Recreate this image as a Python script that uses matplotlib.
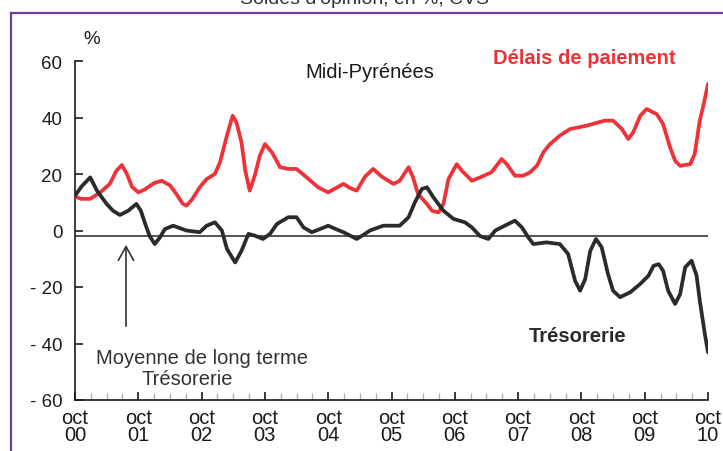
import matplotlib
matplotlib.use("Agg")
import numpy as np
import matplotlib.pyplot as plt
from matplotlib.lines import Line2D
from matplotlib.ticker import FixedLocator, MultipleLocator

plt.rcParams['font.family'] = ['Liberation Sans', 'DejaVu Sans']

# ========================
# Data (years since oct 2000, solde in %)
# ========================
t_delais = [0.0, 0.1, 0.24, 0.4, 0.55, 0.65, 0.74, 0.82, 0.9, 1.0, 1.1, 1.25,
            1.37, 1.5, 1.6, 1.7, 1.76, 1.85, 1.97, 2.08, 2.21, 2.29, 2.4, 2.49,
            2.55, 2.63, 2.69, 2.76, 2.84, 2.92, 3.0, 3.11, 3.24, 3.37, 3.5, 3.66,
            3.84, 4.0, 4.12, 4.24, 4.35, 4.45, 4.58, 4.71, 4.85, 5.03, 5.13, 5.27,
            5.34, 5.42, 5.56, 5.64, 5.74, 5.82, 5.9, 6.03, 6.11, 6.27, 6.4, 6.58,
            6.74, 6.82, 6.95, 7.08, 7.19, 7.3, 7.4, 7.5, 7.66, 7.82, 8.08, 8.37,
            8.5, 8.64, 8.74, 8.82, 8.93, 9.03, 9.19, 9.29, 9.4, 9.48, 9.56, 9.72,
            9.79, 9.87, 9.94, 10.0]
delais = [12.0, 11.2, 11.2, 13.5, 16.5, 21.0, 23.2, 20.0, 15.5, 13.5, 14.5, 16.8,
          17.6, 16.0, 13.0, 9.5, 8.8, 11.0, 15.3, 18.2, 20.0, 24.1, 33.6, 40.6,
          38.3, 31.2, 21.2, 14.1, 19.4, 26.5, 30.6, 27.7, 22.4, 21.8, 21.8, 18.8,
          15.3, 13.5, 15.0, 16.5, 15.0, 14.1, 19.0, 21.8, 19.0, 16.5, 17.6, 22.4,
          18.8, 12.9, 9.4, 7.0, 6.4, 9.4, 18.2, 23.5, 21.2, 17.6, 18.8, 20.6,
          25.3, 23.5, 19.4, 19.4, 20.6, 23.0, 27.7, 30.5, 33.6, 35.9, 37.1, 38.9,
          38.9, 35.9, 32.4, 34.8, 40.6, 43.0, 41.2, 37.7, 29.5, 24.7, 22.9, 23.5,
          27.1, 38.9, 45.5, 51.9]

t_treso = [0.0, 0.1, 0.24, 0.35, 0.5, 0.6, 0.71, 0.84, 0.97, 1.04, 1.11, 1.18,
           1.26, 1.34, 1.42, 1.55, 1.76, 1.97, 2.08, 2.21, 2.32, 2.4, 2.53, 2.63,
           2.74, 2.84, 2.97, 3.08, 3.19, 3.37, 3.5, 3.61, 3.74, 3.87, 4.0, 4.12,
           4.24, 4.45, 4.56, 4.66, 4.87, 5.13, 5.27, 5.37, 5.48, 5.56, 5.66, 5.82,
           5.98, 6.16, 6.27, 6.4, 6.53, 6.64, 6.79, 6.95, 7.06, 7.16, 7.24, 7.45,
           7.55, 7.66, 7.79, 7.9, 7.98, 8.06, 8.14, 8.23, 8.32, 8.42, 8.5, 8.61,
           8.77, 8.93, 9.06, 9.14, 9.22, 9.29, 9.37, 9.48, 9.56, 9.64, 9.74, 9.82,
           9.87, 9.95, 10.0]
treso = [12.3, 15.5, 18.8, 14.0, 9.4, 7.0, 5.5, 7.0, 9.4, 7.0, 2.3, -2.0,
         -4.8, -2.5, 0.5, 1.7, 0.0, -0.6, 1.7, 2.9, 0.0, -6.5, -11.3, -7.2,
         -1.2, -1.8, -3.0, -1.2, 2.3, 4.7, 4.7, 1.1, -0.6, 0.5, 1.7, 0.5,
         -0.6, -3.0, -1.5, 0.0, 1.7, 1.7, 4.7, 10.0, 14.7, 15.3, 11.8, 7.0,
         4.1, 2.9, 1.1, -2.0, -3.0, 0.0, 1.7, 3.5, 1.1, -2.4, -4.8, -4.2,
         -4.5, -4.8, -8.3, -17.8, -21.3, -17.2, -7.2, -3.0, -5.9, -15.4, -21.3, -23.6,
         -21.9, -18.9, -16.0, -12.5, -11.9, -14.2, -21.3, -26.0, -22.5, -13.0, -10.7, -16.0,
         -24.8, -36.6, -43.1]

moyenne_treso = -2.0

year_labels = ["oct\n00", "oct\n01", "oct\n02", "oct\n03", "oct\n04", "oct\n05",
               "oct\n06", "oct\n07", "oct\n08", "oct\n09", "oct\n10"]
y_ticks = [60, 40, 20, 0, -20, -40, -60]
y_labels = ["60", "40", "20", "0", "- 20", "- 40", "- 60"]

RED = "#ee3338"
DARK = "#2b2b2b"

# ========================
# Figure
# ========================
fig = plt.figure(figsize=(7.23, 4.52), dpi=100)
ax = fig.add_axes([75 / 723, 1 - 401 / 452, 633 / 723, 339 / 452])

ax.axhline(moyenne_treso, color="#555555", lw=1.4, zorder=1)
ax.plot(t_delais, delais, color=RED, lw=2.7, solid_joinstyle="round",
        solid_capstyle="round", zorder=3)
ax.plot(t_treso, treso, color=DARK, lw=2.7, solid_joinstyle="round",
        solid_capstyle="round", zorder=4)

ax.set_xlim(0, 10)
ax.set_ylim(-60, 60)
for s in ("top", "right"):
    ax.spines[s].set_visible(False)
for s in ("left", "bottom"):
    ax.spines[s].set_linewidth(1.2)
    ax.spines[s].set_color("#1a1a1a")

ax.xaxis.set_major_locator(FixedLocator(range(11)))
ax.xaxis.set_minor_locator(MultipleLocator(0.25))
ax.set_xticklabels(year_labels, fontsize=14.5, linespacing=0.82)
ax.set_yticks(y_ticks)
ax.set_yticklabels(y_labels, fontsize=13.5)
ax.tick_params(axis="x", which="major", direction="in", length=6, width=1.2,
               pad=6, colors="#1a1a1a")
ax.tick_params(axis="x", which="minor", direction="in", length=5, width=1,
               color="#b0b0b0")
ax.tick_params(axis="y", direction="in", length=6, width=1.2, pad=9,
               colors="#1a1a1a")

# ========================
# Annotations
# ========================
def px(x, y):
    return x / 723, 1 - y / 452

fig.text(*px(92, 40), "%", fontsize=13.5, ha="center", va="center", color="#1a1a1a")
fig.text(*px(370, 72), "Midi-Pyrénées", fontsize=14.5, ha="center", va="center",
         color="#1a1a1a")
fig.text(*px(584, 58), "Délais de paiement", fontsize=14.5, fontweight="bold",
         ha="center", va="center", color=RED)
fig.text(*px(578, 337), "Trésorerie", fontsize=14.5, fontweight="bold",
         ha="center", va="center", color=DARK)
fig.text(*px(202, 359), "Moyenne de long terme", fontsize=14.5, ha="center",
         va="center", color="#333333")
fig.text(*px(187, 380), "Trésorerie", fontsize=14.5, ha="center", va="center",
         color="#333333")
fig.text(*px(365, 4), "Soldes d'opinion, en %, CVS", fontsize=14, ha="center",
         va="baseline", color="#333333")

ax.annotate("", xy=px(126, 243), xycoords="figure fraction",
            xytext=px(126, 330), textcoords="figure fraction",
            arrowprops=dict(arrowstyle="->,head_length=1.0,head_width=0.55",
                            color="#333333", lw=1.2))

# purple frame
x0, y0 = px(11, 14)
fig.add_artist(Line2D([x0, x0], [0, y0], color="#6b3fa0", lw=1.6))
fig.add_artist(Line2D([x0, 1], [y0, y0], color="#6b3fa0", lw=1.6))

fig.savefig("out.png", dpi=100)
